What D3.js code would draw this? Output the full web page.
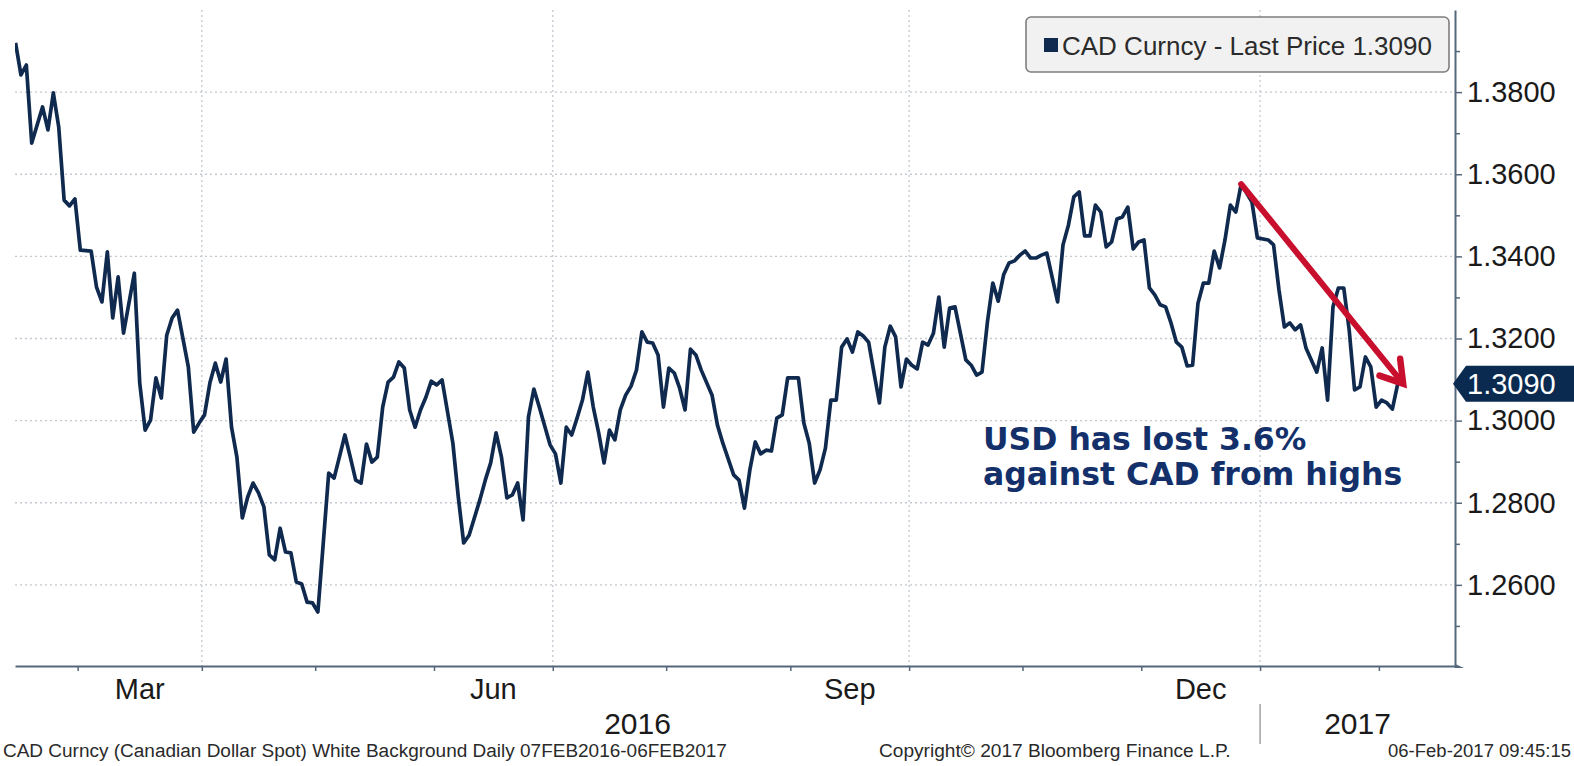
<!DOCTYPE html>
<html>
<head>
<meta charset="utf-8">
<script src="https://cdn.jsdelivr.net/npm/d3@7"></script>
<style>
  html, body { margin: 0; padding: 0; background: #ffffff; }
  svg { display: block; }
</style>
</head>
<body>
<svg id="chart" width="1574" height="766"></svg>
<script>
// USD/CAD spot, daily closes. Sessions are weekdays counted from 8 Feb 2016.
const seriesStart = "2016-02-08";
const sessionNo = [
  4, 5, 6, 7, 9, 10, 11, 12, 13, 14,
  15, 16, 18, 19, 20, 21, 22, 23, 24, 26,
  27, 28, 29, 30, 31, 32, 33, 34, 36, 37,
  38, 39, 40, 41, 42, 43, 44, 45, 46, 47,
  48, 49, 50, 51, 52, 53, 54, 55, 56, 57,
  58, 59, 60, 62, 63, 65, 66, 67, 68, 69,
  70, 71, 72, 73, 74, 75, 76, 77, 78, 79,
  80, 81, 82, 83, 85, 86, 87, 88, 90, 91,
  92, 93, 94, 95, 96, 97, 98, 99, 100, 101,
  103, 104, 105, 106, 107, 108, 109, 110, 111, 112,
  113, 114, 115, 116, 117, 118, 119, 120, 121, 122,
  123, 124, 125, 126, 127, 128, 129, 130, 131, 133,
  134, 135, 137, 138, 139, 140, 141, 142, 143, 144,
  145, 146, 147, 149, 150, 151, 152, 153, 154, 155,
  156, 157, 158, 159, 160, 161, 162, 163, 164, 165,
  166, 167, 168, 169, 170, 171, 172, 173, 174, 175,
  176, 177, 178, 180, 181, 182, 183, 184, 185, 186,
  187, 188, 189, 190, 191, 192, 193, 194, 195, 197,
  198, 199, 200, 201, 202, 203, 204, 205, 206, 207,
  208, 209, 210, 211, 212, 213, 214, 215, 216, 217,
  218, 219, 220, 221, 222, 223, 224, 225, 226, 227,
  228, 229, 230, 231, 233, 234, 236, 237, 238, 239,
  240, 241, 242, 243, 245, 246, 247, 248, 249, 250,
  251, 252, 253, 254, 255, 256, 257, 258, 259, 260
];
const closes = [
  1.3920, 1.3842, 1.3866, 1.3676, 1.3764, 1.3708, 1.3798, 1.3715, 1.3537, 1.3523,
  1.3540, 1.3415, 1.3413, 1.3325, 1.3289, 1.3411, 1.3250, 1.3350, 1.3213, 1.3359,
  1.3092, 1.2977, 1.3001, 1.3104, 1.3055, 1.3208, 1.3250, 1.3269, 1.3131, 1.2972,
  1.2994, 1.3014, 1.3092, 1.3140, 1.3094, 1.3150, 1.2984, 1.2911, 1.2763, 1.2814,
  1.2848, 1.2824, 1.2790, 1.2673, 1.2661, 1.2738, 1.2680, 1.2678, 1.2607, 1.2602,
  1.2558, 1.2556, 1.2534, 1.2872, 1.2860, 1.2965, 1.2911, 1.2855, 1.2848, 1.2943,
  1.2899, 1.2911, 1.3033, 1.3094, 1.3106, 1.3143, 1.3128, 1.3026, 1.2984, 1.3026,
  1.3057, 1.3096, 1.3087, 1.3099, 1.2945, 1.2814, 1.2702, 1.2721, 1.2807, 1.2855,
  1.2897, 1.2970, 1.2911, 1.2812, 1.2819, 1.2848, 1.2758, 1.3009, 1.3077, 1.3033,
  1.2941, 1.2919, 1.2848, 1.2984, 1.2965, 1.3006, 1.3050, 1.3118, 1.3033, 1.2970,
  1.2897, 1.2977, 1.2953, 1.3026, 1.3062, 1.3084, 1.3123, 1.3216, 1.3191, 1.3189,
  1.3160, 1.3033, 1.3128, 1.3116, 1.3079, 1.3026, 1.3174, 1.3160, 1.3123, 1.3062,
  1.2989, 1.2945, 1.2868, 1.2855, 1.2787, 1.2880, 1.2948, 1.2919, 1.2928, 1.2926,
  1.3006, 1.3014, 1.3104, 1.3104, 1.2994, 1.2945, 1.2848, 1.2880, 1.2933, 1.3050,
  1.3050, 1.3179, 1.3199, 1.3167, 1.3216, 1.3206, 1.3191, 1.3116, 1.3043, 1.3179,
  1.3230, 1.3204, 1.3082, 1.3150, 1.3135, 1.3126, 1.3191, 1.3184, 1.3213, 1.3301,
  1.3179, 1.3274, 1.3277, 1.3148, 1.3135, 1.3111, 1.3118, 1.3240, 1.3335, 1.3291,
  1.3355, 1.3384, 1.3389, 1.3403, 1.3413, 1.3396, 1.3396, 1.3403, 1.3408, 1.3289,
  1.3428, 1.3476, 1.3545, 1.3557, 1.3450, 1.3450, 1.3525, 1.3508, 1.3423, 1.3435,
  1.3491, 1.3496, 1.3520, 1.3418, 1.3435, 1.3440, 1.3323, 1.3306, 1.3282, 1.3277,
  1.3238, 1.3191, 1.3179, 1.3133, 1.3135, 1.3286, 1.3335, 1.3335, 1.3413, 1.3372,
  1.3440, 1.3525, 1.3508, 1.3576, 1.3532, 1.3445, 1.3440, 1.3428, 1.3318, 1.3228,
  1.3238, 1.3221, 1.3233, 1.3177, 1.3118, 1.3177, 1.3050, 1.3277, 1.3323, 1.3323,
  1.3221, 1.3075, 1.3082, 1.3155, 1.3131, 1.3033, 1.3050, 1.3043, 1.3028, 1.3090
];
const yTickValues = [1.26, 1.28, 1.30, 1.32, 1.34, 1.36, 1.38];
const yMinorValues = [1.25, 1.27, 1.29, 1.31, 1.33, 1.35, 1.37, 1.39];
const monthRange = ["2016-03-01", "2017-03-01"];
const labelledMonths = ["Mar", "Jun", "Sep", "Dec"];
const yearLabels = ["2016", "2017"];
const seriesName = "CAD Curncy";
const footerLeft = "CAD Curncy (Canadian Dollar Spot) White Background  Daily 07FEB2016-06FEB2017";
const footerMid = "Copyright\u00A9 2017 Bloomberg Finance L.P.";
const footerRight = "06-Feb-2017 09:45:15";

// ---- layout ----
const W = 1574, H = 766;
const plot = { left: 15, right: 1455, top: 10, bottom: 667 };
const NAVY = "#0f2a4e";
const AXIS = "#55677c";
const GRID = "#c3c9d0";
const RED = "#c8102e";
const FONT = "'Liberation Sans', Arial, sans-serif";

const parse = d3.timeParse("%Y-%m-%d");
const start = parse(seriesStart);
const isWeekday = d => d.getDay() !== 0 && d.getDay() !== 6;
// number of weekday sessions elapsed between the series start and a date
const sessionOf = date => d3.timeDay.range(start, date).filter(isWeekday).length;

const data = sessionNo.map((s, i) => ({ s, v: closes[i] }));
const last = data[data.length - 1];

const x = d3.scaleLinear().domain([3.9, 270.6]).range([plot.left, plot.right]);
const y = d3.scaleLinear().domain([1.24, 1.40]).range([plot.bottom, plot.top]);

const svg = d3.select("#chart");
svg.append("rect").attr("width", W).attr("height", H).attr("fill", "#ffffff");

svg.append("defs").append("clipPath").attr("id", "plotClip")
  .append("rect")
  .attr("x", plot.left).attr("y", plot.top)
  .attr("width", plot.right - plot.left).attr("height", plot.bottom - plot.top);

// ---- month boundaries on the session axis ----
const months = d3.timeMonth.range(parse(monthRange[0]), parse(monthRange[1]));
const monthTicks = months.map(m => ({ date: m, pos: sessionOf(m) - 0.5 }));
const fmtMonth = d3.timeFormat("%b");

// ---- grid ----
const grid = svg.append("g");
grid.selectAll("line.h").data(yTickValues).join("line")
  .attr("class", "h")
  .attr("x1", plot.left).attr("x2", plot.right)
  .attr("y1", d => y(d)).attr("y2", d => y(d))
  .attr("stroke", GRID).attr("stroke-width", 1.3)
  .attr("stroke-dasharray", "2 3");
grid.selectAll("line.v").data(monthTicks.filter(t => t.date.getMonth() % 3 === 0)).join("line")
  .attr("class", "v")
  .attr("x1", d => x(d.pos)).attr("x2", d => x(d.pos))
  .attr("y1", plot.top).attr("y2", plot.bottom)
  .attr("stroke", GRID).attr("stroke-width", 1.3)
  .attr("stroke-dasharray", "2 3");

// ---- right value axis ----
const yAxis = svg.append("g")
  .attr("transform", `translate(${plot.right},0)`)
  .call(d3.axisRight(y).tickValues(yTickValues).tickSize(7).tickSizeOuter(0)
    .tickPadding(5).tickFormat(d3.format(".4f")));
yAxis.select(".domain").attr("stroke", AXIS).attr("stroke-width", 2);
yAxis.selectAll(".tick line").attr("stroke", AXIS).attr("stroke-width", 1.5);
yAxis.selectAll(".tick text")
  .attr("font-family", FONT).attr("font-size", 29).attr("fill", "#1a1a1a");

const yMinor = svg.append("g")
  .attr("transform", `translate(${plot.right},0)`)
  .call(d3.axisRight(y).tickValues(yMinorValues).tickSize(5).tickSizeOuter(0).tickFormat(""));
yMinor.select(".domain").remove();
yMinor.selectAll(".tick line").attr("stroke", AXIS).attr("stroke-width", 1.5);

// ---- bottom time axis ----
const xAxis = svg.append("g")
  .attr("transform", `translate(0,${plot.bottom - 1})`)
  .call(d3.axisBottom(x).tickValues(monthTicks.map(t => t.pos)).tickSize(5)
    .tickSizeOuter(0).tickFormat(""));
xAxis.select(".domain").attr("stroke", AXIS).attr("stroke-width", 2.2);
xAxis.selectAll(".tick line").attr("stroke", AXIS).attr("stroke-width", 1.5);
svg.append("path")
  .attr("d", `M${plot.right},${plot.bottom - 3}L${plot.right + 9},${plot.bottom + 1}L${plot.right},${plot.bottom + 1}Z`)
  .attr("fill", AXIS);

// month names centred within their month
const monthLabelData = monthTicks.slice(0, -1)
  .map((t, i) => ({ name: fmtMonth(t.date), mid: (x(t.pos) + x(monthTicks[i + 1].pos)) / 2 }))
  .filter(d => labelledMonths.includes(d.name));
svg.append("g").selectAll("text").data(monthLabelData).join("text")
  .attr("x", d => d.mid).attr("y", 699)
  .attr("text-anchor", "middle")
  .attr("font-family", FONT).attr("font-size", 29).attr("fill", "#1a1a1a")
  .text(d => d.name);

// year labels and divider
const janTick = monthTicks.find(t => t.date.getMonth() === 0);
const xJan = x(janTick.pos);
const yearSpans = [[plot.left, xJan], [xJan, plot.right]];
svg.append("g").selectAll("text").data(yearLabels).join("text")
  .attr("x", (d, i) => (yearSpans[i][0] + yearSpans[i][1]) / 2)
  .attr("y", 734)
  .attr("text-anchor", "middle")
  .attr("font-family", FONT).attr("font-size", 30).attr("fill", "#1a1a1a")
  .text(d => d);
svg.append("line")
  .attr("x1", xJan).attr("x2", xJan).attr("y1", 704).attr("y2", 744)
  .attr("stroke", "#8a8a8a").attr("stroke-width", 1.2);

// ---- price line ----
const line = d3.line().x(d => x(d.s)).y(d => y(d.v));
svg.append("path")
  .datum(data)
  .attr("clip-path", "url(#plotClip)")
  .attr("d", line)
  .attr("fill", "none")
  .attr("stroke", NAVY)
  .attr("stroke-width", 3.7)
  .attr("stroke-linejoin", "round");

// ---- move since the December high ----
const recent = data.filter(d => d.s >= 200);
const peak = recent.reduce((a, b) => (b.v > a.v ? b : a));
const ax0 = x(peak.s), ay0 = y(peak.v);
const ax1 = x(last.s + 1), ay1 = y(last.v);
const ang = Math.atan2(ay1 - ay0, ax1 - ax0);
const wing = 25, spread = Math.PI / 5.6;
const w1 = [ax1 - wing * Math.cos(ang - spread), ay1 - wing * Math.sin(ang - spread)];
const w2 = [ax1 - wing * Math.cos(ang + spread), ay1 - wing * Math.sin(ang + spread)];
svg.append("line")
  .attr("x1", ax0).attr("y1", ay0).attr("x2", ax1 - 2 * Math.cos(ang)).attr("y2", ay1 - 2 * Math.sin(ang))
  .attr("stroke", RED).attr("stroke-width", 6).attr("stroke-linecap", "round");
svg.append("path")
  .attr("d", `M${w1[0]},${w1[1]}L${ax1},${ay1}L${w2[0]},${w2[1]}`)
  .attr("fill", "none").attr("stroke", RED).attr("stroke-width", 6.5)
  .attr("stroke-linejoin", "miter").attr("stroke-linecap", "round");

const lossPct = ((peak.v - last.v) / peak.v * 100).toFixed(1);
const note = svg.append("text")
  .attr("font-family", "'DejaVu Sans', Verdana, sans-serif")
  .attr("font-weight", "bold").attr("font-size", 31.5).attr("fill", "#13306b");
note.append("tspan").attr("x", 983).attr("y", 450).text(`USD has lost ${lossPct}%`);
note.append("tspan").attr("x", 983).attr("y", 485).text("against CAD from highs");

// ---- last price tag on the value axis ----
const fmt4 = d3.format(".4f");
const ty = y(last.v);
svg.append("path")
  .attr("d", `M${plot.right - 2},${ty}L${plot.right + 11},${ty - 18}L${W},${ty - 18}L${W},${ty + 18}L${plot.right + 11},${ty + 18}Z`)
  .attr("fill", "#0b2a50");
svg.append("text")
  .attr("x", plot.right + 12).attr("y", ty).attr("dy", "0.36em")
  .attr("font-family", FONT).attr("font-size", 29).attr("fill", "#ffffff")
  .text(fmt4(last.v));

// ---- legend ----
const legend = svg.append("g");
legend.append("rect")
  .attr("x", 1026).attr("y", 17).attr("width", 423).attr("height", 55).attr("rx", 5)
  .attr("fill", "#f1f1f1").attr("stroke", "#7d7d7d").attr("stroke-width", 1.6);
legend.append("rect")
  .attr("x", 1044).attr("y", 38).attr("width", 14).attr("height", 14).attr("fill", NAVY);
legend.append("text")
  .attr("x", 1062).attr("y", 55)
  .attr("font-family", FONT).attr("font-size", 26).attr("fill", "#2b2b2b")
  .text(`${seriesName} - Last Price ${fmt4(last.v)}`);

// ---- footer ----
function fitWidth(sel, width) {
  const len = sel.node().getComputedTextLength();
  const fs = parseFloat(sel.attr("font-size"));
  sel.attr("font-size", (fs * width / len).toFixed(2));
}
const f1 = svg.append("text").attr("x", 3).attr("y", 757)
  .attr("font-family", FONT).attr("font-size", 18).attr("fill", "#2a2a2a").text(footerLeft);
fitWidth(f1, 724);
const f2 = svg.append("text").attr("x", 879).attr("y", 757)
  .attr("font-family", FONT).attr("font-size", 18).attr("fill", "#2a2a2a").text(footerMid);
fitWidth(f2, 352);
const f3 = svg.append("text").attr("x", 1571).attr("y", 757).attr("text-anchor", "end")
  .attr("font-family", FONT).attr("font-size", 18).attr("fill", "#2a2a2a").text(footerRight);
fitWidth(f3, 183);
</script>
</body>
</html>
